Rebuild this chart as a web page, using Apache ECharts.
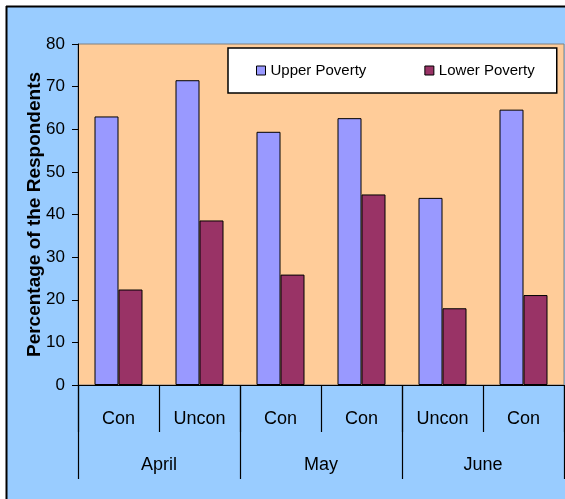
<!DOCTYPE html>
<html>
<head>
<meta charset="utf-8">
<script src="https://cdn.jsdelivr.net/npm/echarts@6/dist/echarts.min.js"></script>
<style>
html,body{margin:0;padding:0;background:#fff;}
#chart{width:565px;height:499px;}
</style>
</head>
<body>
<div id="chart"></div>
<script>
var categories = ['Con', 'Uncon', 'Con', 'Con', 'Uncon', 'Con'];
var months = ['April', 'May', 'June'];
var upperPoverty = [63, 71.5, 59.4, 62.6, 43.9, 64.6];
var lowerPoverty = [22.4, 38.6, 25.9, 44.7, 18.0, 21.1];
var seriesNames = ['Upper Poverty', 'Lower Poverty'];

var regular = '"Liberation Sans", Arial, sans-serif';

var chart = echarts.init(document.getElementById('chart'));
chart.setOption({
  backgroundColor: '#99CCFF',
  animation: false,
  graphic: [
    { type: 'rect', shape: { x: 0, y: 0, width: 565, height: 6 }, style: { fill: '#ffffff' }, silent: true },
    { type: 'rect', shape: { x: 0, y: 0, width: 6, height: 499 }, style: { fill: '#ffffff' }, silent: true },
    { type: 'line', shape: { x1: 6, y1: 6.5, x2: 565, y2: 6.5 }, style: { stroke: '#000', lineWidth: 2 }, silent: true },
    { type: 'line', shape: { x1: 6.5, y1: 6, x2: 6.5, y2: 499 }, style: { stroke: '#000', lineWidth: 2 }, silent: true }
  ],
  grid: {
    left: 78, right: 1, top: 44, bottom: 114,
    show: true, backgroundColor: '#FFCC99', borderColor: '#808080', borderWidth: 1
  },
  legend: {
    left: 228, top: 48,
    padding: [15, 22, 15, 28],
    itemGap: 58,
    itemWidth: 9, itemHeight: 9,
    icon: 'rect',
    backgroundColor: '#ffffff',
    borderColor: '#000000',
    borderWidth: 1.5,
    borderRadius: 0,
    itemStyle: { borderColor: '#000', borderWidth: 1 },
    textStyle: { fontFamily: regular, fontSize: 15, color: '#000' },
    data: seriesNames
  },
  xAxis: [
    {
      type: 'category', data: categories, position: 'bottom',
      axisLine: { show: true, lineStyle: { color: '#000', width: 1 } },
      axisTick: { show: true, length: 47, interval: 0, lineStyle: { color: '#000', width: 1.2 } },
      axisLabel: { show: true, interval: 0, margin: 25, fontFamily: regular, fontSize: 18, color: '#000' }
    },
    {
      type: 'category', data: months, position: 'bottom', offset: 0,
      axisLine: { show: false },
      axisTick: { show: true, length: 94, interval: 0, lineStyle: { color: '#000', width: 1.2 } },
      axisLabel: { show: true, interval: 0, margin: 71, fontFamily: regular, fontSize: 18, color: '#000' }
    }
  ],
  yAxis: {
    type: 'value', min: 0, max: 80, interval: 10,
    name: 'Percentage of the Respondents',
    nameLocation: 'middle', nameGap: 34, nameRotate: 90,
    nameMoveOverlap: false,
    nameTextStyle: { fontFamily: regular, fontWeight: 'bold', fontSize: 19, color: '#000' },
    axisLine: { show: true, lineStyle: { color: '#000', width: 1 } },
    axisTick: { show: true, length: 6, lineStyle: { color: '#000' } },
    axisLabel: { margin: 13, fontFamily: regular, fontSize: 17, color: '#000' },
    splitLine: { show: false }
  },
  series: [
    {
      name: seriesNames[0], type: 'bar', xAxisIndex: 0, data: upperPoverty,
      barWidth: 24, barGap: '0%',
      itemStyle: { color: '#9999FF', borderColor: '#000', borderWidth: 1 }
    },
    {
      name: seriesNames[1], type: 'bar', xAxisIndex: 0, data: lowerPoverty,
      barWidth: 24, barGap: '0%',
      itemStyle: { color: '#993366', borderColor: '#000', borderWidth: 1 }
    }
  ]
});
</script>
</body>
</html>
